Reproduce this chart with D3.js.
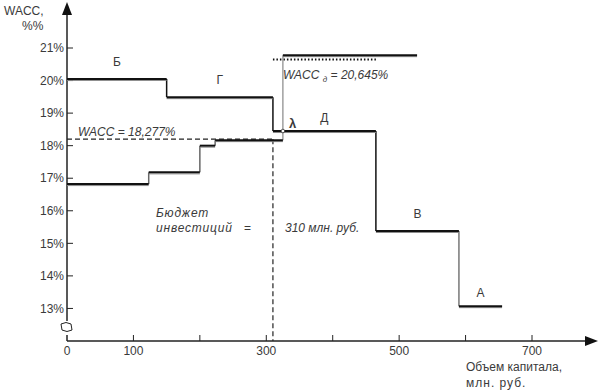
<!DOCTYPE html>
<html>
<head>
<meta charset="utf-8">
<script src="https://cdn.jsdelivr.net/npm/d3@7"></script>
<style>
    body { margin: 0; background: #fff; }
    svg text { font-family: "Liberation Sans", Arial, sans-serif; fill: #3a3a3a; }
</style>
</head>
<body>
<div id="chart"></div>
<script>
// investment projects (IOS)
const iosLabels = ["Б", "Г", "Д", "В", "А"];
const iosStart = [0, 150, 310, 465, 590];
const iosEnd = [150, 310, 465, 590, 655];
const iosRate = [20.05, 19.49, 18.45, 15.38, 13.07];

// marginal cost of capital (MCC)
const mccStart = [0, 123, 200, 223, 325];
const mccEnd = [123, 200, 223, 325, 527];
const mccRate = [16.82, 17.18, 18.0, 18.17, 20.78];

const waccValue = 18.2;
const waccText = "WACC = 18,277%";
const waccMarg = 20.645;
const budget = 310;

const xTicks = [100, 200, 300, 400, 500, 600, 700];
const xTickLabels = [0, 100, 300, 500, 700];
const yTicks = [13, 14, 15, 16, 17, 18, 19, 20, 21];

const width = 600;
const height = 390;

const svg = d3.select("#chart")
    .append("svg")
    .attr("width", width)
    .attr("height", height);

const x0 = 67, y0 = 341;

const xScale = d3.scaleLinear().domain([0, 700]).range([x0, 532]);
const yScale = d3.scaleLinear().domain([12, 21]).range([y0, 48]);

// axes
svg.append("line")
    .attr("x1", x0).attr("x2", x0)
    .attr("y1", y0).attr("y2", 12)
    .attr("stroke", "#222").attr("stroke-width", 1.5);
svg.append("path")
    .attr("d", `M${x0},2 L${x0 - 5},15 L${x0 + 5},15 Z`)
    .attr("fill", "#111");

svg.append("line")
    .attr("x1", x0).attr("x2", 588)
    .attr("y1", y0).attr("y2", y0)
    .attr("stroke", "#222").attr("stroke-width", 1.5);
svg.append("path")
    .attr("d", `M598,${y0} L585,${y0 - 5} L585,${y0 + 5} Z`)
    .attr("fill", "#111");

// axis break
svg.append("rect")
    .attr("x", x0 - 5).attr("y", 321).attr("width", 10).attr("height", 14)
    .attr("fill", "#fff");
svg.append("path")
    .attr("d", `M${x0 - 6},324 Q${x0 - 1},321 ${x0 + 4},324 L${x0 + 5},330 Q${x0},333 ${x0 - 5},330 Z`)
    .attr("fill", "none").attr("stroke", "#222").attr("stroke-width", 1);

// y ticks
const yAxisG = svg.append("g");
yAxisG.selectAll("line").data(yTicks).enter().append("line")
    .attr("x1", x0).attr("x2", x0 + 6)
    .attr("y1", d => yScale(d)).attr("y2", d => yScale(d))
    .attr("stroke", "#222");
yAxisG.selectAll("text").data(yTicks).enter().append("text")
    .attr("x", x0 - 3)
    .attr("y", d => yScale(d))
    .attr("dy", "0.35em")
    .attr("text-anchor", "end")
    .attr("font-size", "12px")
    .text(d => `${d}%`);

svg.append("text").attr("x", 4).attr("y", 15).attr("font-size", "12px").text("WACC,");
svg.append("text").attr("x", 22).attr("y", 30).attr("font-size", "12px").text("%%");

// x ticks
const xAxisG = svg.append("g");
xAxisG.selectAll("line").data(xTicks).enter().append("line")
    .attr("x1", d => xScale(d)).attr("x2", d => xScale(d))
    .attr("y1", y0).attr("y2", y0 - 6)
    .attr("stroke", "#222");
xAxisG.selectAll("text").data(xTickLabels).enter().append("text")
    .attr("x", d => xScale(d))
    .attr("y", 355)
    .attr("text-anchor", "middle")
    .attr("font-size", "12px")
    .text(d => d);

svg.append("text").attr("x", 466).attr("y", 371).attr("font-size", "12px").text("Объем капитала,");
svg.append("text").attr("x", 466).attr("y", 387).attr("font-size", "12px")
    .attr("letter-spacing", "1px").text("млн. руб.");

// dashed WACC and budget lines
svg.append("line")
    .attr("x1", xScale(0)).attr("x2", xScale(budget))
    .attr("y1", yScale(waccValue)).attr("y2", yScale(waccValue))
    .attr("stroke", "#222").attr("stroke-width", 1.2)
    .attr("stroke-dasharray", "5,3");
svg.append("line")
    .attr("x1", xScale(budget)).attr("x2", xScale(budget))
    .attr("y1", yScale(waccValue)).attr("y2", y0)
    .attr("stroke", "#222").attr("stroke-width", 1.2)
    .attr("stroke-dasharray", "5,3");
svg.append("line")
    .attr("x1", xScale(budget)).attr("x2", xScale(iosEnd[2]))
    .attr("y1", yScale(waccMarg)).attr("y2", yScale(waccMarg))
    .attr("stroke", "#111").attr("stroke-width", 2)
    .attr("stroke-dasharray", "1.5,2");

const ital = svg.append("g").attr("font-style", "italic").attr("font-size", "12px");
ital.append("text").attr("x", 78).attr("y", 136).text(waccText);
const wm = ital.append("text").attr("x", 283).attr("y", 79);
wm.append("tspan").text("WACC ");
wm.append("tspan").attr("font-size", "8px").attr("dy", 3).text("д");
wm.append("tspan").attr("dy", -3).text(" = 20,645%");
ital.append("text").attr("x", 156).attr("y", 217).attr("letter-spacing", "0.8px").text("Бюджет");
ital.append("text").attr("x", 156).attr("y", 232).attr("letter-spacing", "0.8px").text("инвестиций");
ital.append("text").attr("x", 244).attr("y", 232).attr("font-style", "normal").text("=");
ital.append("text").attr("x", 285).attr("y", 232).text("310 млн. руб.");

// MCC verticals (thin gray)
const mccV = d3.range(mccStart.length - 1);
svg.append("g").selectAll("line").data(mccV).enter().append("line")
    .attr("x1", i => xScale(mccEnd[i])).attr("x2", i => xScale(mccEnd[i]))
    .attr("y1", i => yScale(mccRate[i])).attr("y2", i => yScale(mccRate[i + 1]))
    .attr("stroke", i => i === 3 ? "#888" : "#666")
    .attr("stroke-width", i => i === 3 ? 1.2 : 1.5);

// IOS verticals
const iosV = d3.range(iosStart.length - 1);
svg.append("g").selectAll("line").data(iosV).enter().append("line")
    .attr("x1", i => xScale(iosEnd[i])).attr("x2", i => xScale(iosEnd[i]))
    .attr("y1", i => yScale(iosRate[i])).attr("y2", i => yScale(iosRate[i + 1]))
    .attr("stroke", i => i === 3 ? "#777" : "#111")
    .attr("stroke-width", 1.5);

// horizontal steps with gray shadow
const drawSteps = (starts, ends, rates) => {
    const idx = d3.range(starts.length);
    const g = svg.append("g");
    g.selectAll(".shadow").data(idx).enter().append("line")
        .attr("class", "shadow")
        .attr("x1", i => xScale(starts[i])).attr("x2", i => xScale(ends[i]))
        .attr("y1", i => yScale(rates[i]) + 1.5).attr("y2", i => yScale(rates[i]) + 1.5)
        .attr("stroke", "#888").attr("stroke-width", 1);
    g.selectAll(".step").data(idx).enter().append("line")
        .attr("class", "step")
        .attr("x1", i => xScale(starts[i])).attr("x2", i => xScale(ends[i]))
        .attr("y1", i => yScale(rates[i])).attr("y2", i => yScale(rates[i]))
        .attr("stroke", "#111").attr("stroke-width", 2);
};
drawSteps(mccStart, mccEnd, mccRate);
drawSteps(iosStart, iosEnd, iosRate);

// intersection point
svg.append("circle")
    .attr("cx", xScale(mccEnd[3])).attr("cy", yScale(iosRate[2]))
    .attr("r", 1.8)
    .attr("fill", "#fff").attr("stroke", "#333").attr("stroke-width", 0.8);
svg.append("text")
    .attr("x", xScale(mccEnd[3]) + 6).attr("y", yScale(iosRate[2]) - 3)
    .attr("font-size", "13px").attr("font-weight", "bold")
    .attr("font-family", "DejaVu Serif, serif")
    .text("λ");

// project labels
const labelDy = [-13, -13, -9, -13, -9];
svg.append("g").selectAll("text").data(d3.range(iosLabels.length)).enter().append("text")
    .attr("x", i => xScale((iosStart[i] + iosEnd[i]) / 2))
    .attr("y", i => yScale(iosRate[i]) + labelDy[i])
    .attr("text-anchor", "middle")
    .attr("font-size", "12px")
    .text(i => iosLabels[i]);
</script>
</body>
</html>
